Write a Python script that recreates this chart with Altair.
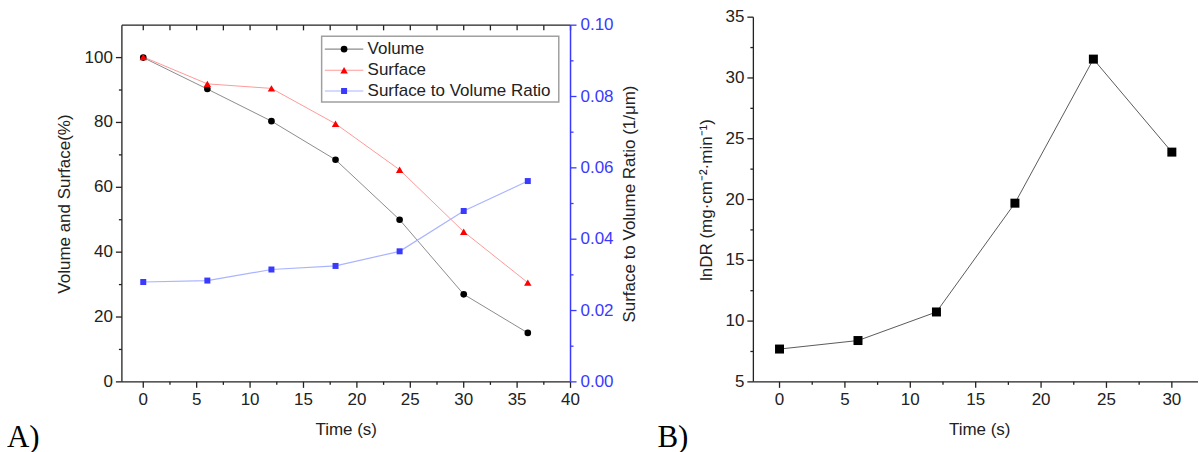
import altair as alt
import pandas as pd

# ---------------- data ----------------
# Panel A
time_a = [0, 6, 12, 18, 24, 30, 36]
volume = [100.0, 90.3, 80.4, 68.5, 50.0, 27.0, 15.1]
surface = [100.2, 91.9, 90.5, 79.6, 65.4, 46.3, 30.6]
ratio = [0.0280, 0.0284, 0.0315, 0.0325, 0.0366, 0.0479, 0.0563]

# Panel B
time_b = [0, 6, 12, 18, 24, 30]
indr = [7.7, 8.4, 10.75, 19.7, 31.55, 23.9]

legend_labels = ["Volume", "Surface", "Surface to Volume Ratio"]

# tick values
xa_major = [0, 5, 10, 15, 20, 25, 30, 35, 40]
xa_minor = [2.5, 7.5, 12.5, 17.5, 22.5, 27.5, 32.5, 37.5]
xa_top = [0, 2.5, 5, 7.5, 10, 12.5, 15, 17.5, 20, 22.5, 25, 27.5, 30, 32.5, 35, 37.5, 40]
ya_major = [0, 20, 40, 60, 80, 100]
ya_minor = [10, 30, 50, 70, 90]
yr_major = [0.0, 0.02, 0.04, 0.06, 0.08, 0.10]
yr_minor = [0.01, 0.03, 0.05, 0.07, 0.09]
xb_major = [0, 5, 10, 15, 20, 25, 30]
xb_minor = [2.5, 7.5, 12.5, 17.5, 22.5, 27.5]
yb_major = [5, 10, 15, 20, 25, 30, 35]
yb_minor = [7.5, 12.5, 17.5, 22.5, 27.5, 32.5]

# ---------------- styling ----------------
FONT = "Liberation Sans"
BLUE = "#3a3aff"
INK = "#222222"
H = 365
WA = 449
WB = 445
Y_RANGE_A = [H, 8]
MAJOR = 6
MINOR = 3
FS = 17
LW = 1.3
one = pd.DataFrame({"k": [0]})


def hidden_axis(**kw):
    return alt.Axis(labels=False, ticks=False, domain=False, grid=False, title="", **kw)


def x_ticks(values, length, color=INK):
    return alt.Chart(pd.DataFrame({"t": values})).mark_rule(color=color, strokeWidth=LW).encode(
        x=alt.X("t:Q", axis=None), y=alt.value(H), y2=alt.value(H + length))


def x_labels(values):
    df = pd.DataFrame({"t": values, "lab": [format(v, "g") for v in values]})
    return alt.Chart(df).mark_text(align="center", baseline="top", font=FONT, fontSize=FS, color=INK).encode(
        x=alt.X("t:Q", axis=None), y=alt.value(H + 10), text="lab:N")


def y_ticks(values, field, length, side=0, direction=-1, color=INK):
    return alt.Chart(pd.DataFrame({field: values})).mark_rule(color=color, strokeWidth=LW).encode(
        y=alt.Y(f"{field}:Q", axis=None), x=alt.value(side), x2=alt.value(side + direction * length))


def y_labels(values, field, spec, xpos, align, color=INK):
    df = pd.DataFrame({field: values, "lab": [format(v, spec) for v in values]})
    return alt.Chart(df).mark_text(align=align, baseline="middle", font=FONT, fontSize=FS, color=color).encode(
        y=alt.Y(f"{field}:Q", axis=None), x=alt.value(xpos), text="lab:N")


def title_text(text, x, y, angle=0, baseline="alphabetic"):
    return alt.Chart(one).mark_text(text=text, font=FONT, fontSize=FS, color=INK, align="center",
                                    baseline=baseline, angle=angle).encode(
        x=alt.value(x), y=alt.value(y))


def panel_label(text, x):
    return alt.Chart(one).mark_text(text=text, font="Liberation Serif", fontSize=31, align="left",
                                    baseline="alphabetic", color="black").encode(
        x=alt.value(x), y=alt.value(430))


# ---------------- panel A ----------------
df_a = pd.DataFrame({"t": time_a, "volume": volume, "surface": surface, "ratio": ratio})
xa = alt.X("t:Q", scale=alt.Scale(domain=[-2, 40], nice=False, zero=False), axis=hidden_axis())
xa_plain = alt.X("t:Q", axis=None)
y_scale_a = alt.Scale(domain=[0, 110], range=Y_RANGE_A, nice=False, zero=False)

vol_line = alt.Chart(df_a).mark_line(color="#8c8c8c", strokeWidth=1).encode(
    x=xa, y=alt.Y("volume:Q", scale=y_scale_a, axis=hidden_axis()))
vol_pts = alt.Chart(df_a).mark_point(filled=True, shape="circle", size=44, color="black", opacity=1).encode(
    x=xa_plain, y=alt.Y("volume:Q", axis=None))
sur_line = alt.Chart(df_a).mark_line(color="#ff9a9a", strokeWidth=1).encode(
    x=xa_plain, y=alt.Y("surface:Q", axis=None))
sur_pts = alt.Chart(df_a).mark_point(filled=True, shape="triangle-up", size=55, color="#ff0000", opacity=1).encode(
    x=xa_plain, y=alt.Y("surface:Q", axis=None))

top_border = alt.Chart(one).mark_rule(color=INK, strokeWidth=LW).encode(
    x=alt.datum(-2), x2=alt.datum(40), y=alt.datum(110))
bottom_border = alt.Chart(one).mark_rule(color=INK, strokeWidth=LW).encode(
    x=alt.datum(-2), x2=alt.datum(40), y=alt.datum(0))
left_border = alt.Chart(pd.DataFrame({"t": [-2]})).mark_rule(color=INK, strokeWidth=LW).encode(
    x=xa_plain, y=alt.value(8), y2=alt.value(H))
top_ticks = alt.Chart(pd.DataFrame({"t": xa_top})).mark_rule(color=INK, strokeWidth=LW).encode(
    x=xa_plain, y=alt.datum(110), y2=alt.datum(108.4))

frame_a = [
    top_border, bottom_border, left_border, top_ticks,
    x_ticks(xa_major, MAJOR), x_ticks(xa_minor, MINOR), x_labels(xa_major),
    y_ticks(ya_major, "volume", MAJOR), y_ticks(ya_minor, "volume", MINOR),
    y_labels(ya_major, "volume", "g", -9, "right"),
    title_text("Time (s)", WA / 2, 418),
    title_text("Volume and Surface(%)", -57, 187, angle=270, baseline="middle"),
]

# legend (drawn through the data scales)
leg_box = alt.Chart(one).mark_rect(fill="white", stroke="#a0a0a0", strokeWidth=1.5).encode(
    x=alt.datum(16.7), x2=alt.datum(38.9), y=alt.datum(106.6), y2=alt.datum(86.3))
df_leg = pd.DataFrame({
    "label": legend_labels,
    "ly": [102.6, 96.1, 89.7],
    "lcolor": ["#8c8c8c", "#ff9a9a", "#a9b4ff"],
    "mcolor": ["black", "#ff0000", BLUE],
    "shape": ["circle", "triangle-up", "square"],
    "size": [44, 55, 36],
})
leg_lines = alt.Chart(df_leg).mark_rule(strokeWidth=1.2).encode(
    x=alt.datum(17.0), x2=alt.datum(20.6), y=alt.Y("ly:Q", axis=None),
    color=alt.Color("lcolor:N", scale=None))
leg_pts = alt.Chart(df_leg).mark_point(filled=True, opacity=1).encode(
    x=alt.datum(18.8), y=alt.Y("ly:Q", axis=None),
    color=alt.Color("mcolor:N", scale=None), shape=alt.Shape("shape:N", scale=None),
    size=alt.Size("size:Q", scale=None))
leg_text = alt.Chart(df_leg).mark_text(align="left", baseline="middle", font=FONT, fontSize=FS, color=INK).encode(
    x=alt.datum(21.0), y=alt.Y("ly:Q", axis=None), text="label:N")

left_group = alt.layer(vol_line, sur_line, vol_pts, sur_pts, *frame_a,
                       leg_box, leg_lines, leg_pts, leg_text, panel_label("A)", -115))

y_scale_r = alt.Scale(domain=[0, 0.1], range=Y_RANGE_A, nice=False, zero=False)
rat_line = alt.Chart(df_a).mark_line(color="#a9b4ff", strokeWidth=1.2).encode(
    x=xa_plain, y=alt.Y("ratio:Q", scale=y_scale_r, axis=hidden_axis(orient="right")))
rat_pts = alt.Chart(df_a).mark_point(filled=True, shape="square", size=36, color=BLUE, opacity=1).encode(
    x=xa_plain, y=alt.Y("ratio:Q", axis=None))
right_frame = [
    alt.Chart(one).mark_rule(color=BLUE, strokeWidth=1.5).encode(
        x=alt.value(WA), y=alt.value(8), y2=alt.value(H)),
    y_ticks(yr_major, "ratio", MAJOR, side=WA, direction=1, color=BLUE),
    y_ticks(yr_minor, "ratio", MINOR, side=WA, direction=1, color=BLUE),
    y_labels(yr_major, "ratio", ".2f", WA + 10, "left", color=BLUE),
    title_text("Surface to Volume Ratio (1/μm)", WA + 60, 187, angle=270, baseline="middle"),
]
right_group = alt.layer(rat_line, rat_pts, *right_frame)

chart_a = alt.layer(left_group, right_group).resolve_scale(y="independent").properties(width=WA, height=H)

# ---------------- panel B ----------------
df_b = pd.DataFrame({"t": time_b, "indr": indr})
xb = alt.X("t:Q", scale=alt.Scale(domain=[-2, 32], nice=False, zero=False), axis=hidden_axis())
yb = alt.Y("indr:Q", scale=alt.Scale(domain=[5, 35], nice=False, zero=False), axis=hidden_axis())

b_line = alt.Chart(df_b).mark_line(color="#5a5a5a", strokeWidth=1).encode(x=xb, y=yb)
b_pts = alt.Chart(df_b).mark_point(filled=True, shape="square", size=81, color="black", opacity=1).encode(
    x=alt.X("t:Q", axis=None), y=alt.Y("indr:Q", axis=None))
frame_b = [
    alt.Chart(one).mark_rule(color=INK, strokeWidth=LW).encode(
        x=alt.value(0), x2=alt.value(WB), y=alt.value(H)),
    alt.Chart(one).mark_rule(color=INK, strokeWidth=LW).encode(
        x=alt.value(0), y=alt.value(0), y2=alt.value(H)),
    x_ticks(xb_major, MAJOR), x_ticks(xb_minor, MINOR), x_labels(xb_major),
    y_ticks(yb_major, "indr", MAJOR), y_ticks(yb_minor, "indr", MINOR),
    y_labels(yb_major, "indr", "g", -9, "right"),
    title_text("Time (s)", WB / 2 + 4, 418),
    title_text("lnDR (mg·cm⁻²·min⁻¹)", -46, 183, angle=270, baseline="middle"),
    panel_label("B)", -96),
]
chart_b = alt.layer(b_line, b_pts, *frame_b).properties(width=WB, height=H)

chart = alt.hconcat(chart_a, chart_b, spacing=183, bounds="flush").properties(
    padding={"left": 7, "top": 8, "right": 0, "bottom": 0},
    background="white",
).configure_view(strokeWidth=0)

chart.save("out.html", embed_options={"renderer": "svg", "actions": False})
